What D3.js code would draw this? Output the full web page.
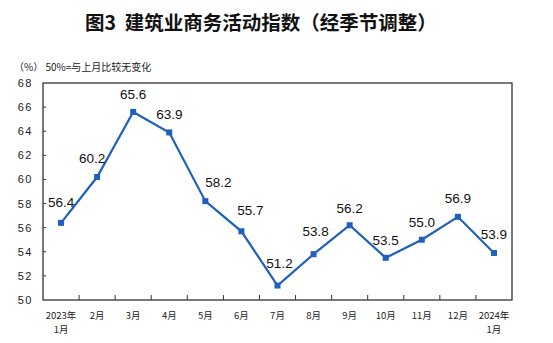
<!DOCTYPE html>
<html>
<head>
<meta charset="utf-8">
<script src="https://cdn.jsdelivr.net/npm/d3@7"></script>
<style>
  html, body { margin: 0; padding: 0; background: #fff; }
  svg { display: block; }
  text { font-family: "Liberation Sans", Arial, "Noto Sans CJK SC", sans-serif; white-space: pre; }
</style>
</head>
<body>
<svg id="chart" width="553" height="343"></svg>
<script>
// Months of the index, with two-line labels where the year changes
const months = ["2023年|1月", "2月", "3月", "4月", "5月", "6月", "7月", "8月", "9月", "10月", "11月", "12月", "2024年|1月"];
// Construction business activity index (seasonally adjusted), %
const values = [56.4, 60.2, 65.6, 63.9, 58.2, 55.7, 51.2, 53.8, 56.2, 53.5, 55.0, 56.9, 53.9];
const yTicks = [50, 52, 54, 56, 58, 60, 62, 64, 66, 68];
// Nudges of the value labels so they clear the line
const labelDx = [0, -5, 0, 0, 13, 9, 2, 2, 0, 0, 0, 0, 0];
const labelDy = [-16, -14, -13, -13, -14, -16, -18, -18, -12, -13, -13, -14, -14];

const svg = d3.select("#chart");
const plotLeft = 43, plotRight = 512, plotTop = 83, plotBottom = 300;
const blue = "#1f5fbd", axisColor = "#333";

const x = d3.scaleBand().domain(months).range([plotLeft, plotRight]).padding(0);
const y = d3.scaleLinear().domain([50, 68]).range([plotBottom, plotTop]);
const cx = d => x(d) + x.bandwidth() / 2;

// Title and unit note
svg.append("text")
  .attr("x", 85).attr("y", 30)
  .style("font-family", "'Noto Sans CJK SC', sans-serif")
  .style("font-size", "19.5px").style("font-weight", "bold").attr("fill", "#111")
  .text("图3  建筑业商务活动指数（经季节调整）");
svg.append("text")
  .attr("x", 14).attr("y", 71)
  .style("font-family", "'Noto Sans CJK SC', sans-serif")
  .style("font-size", "10px").attr("fill", "#222")
  .text("（%） 50%=与上月比较无变化");

// Plot frame
svg.append("rect")
  .attr("x", plotLeft).attr("y", plotTop)
  .attr("width", plotRight - plotLeft).attr("height", plotBottom - plotTop)
  .attr("fill", "none").attr("stroke", axisColor).attr("stroke-width", 1.3);

// Y axis: inward ticks, labels on the left
const yAxis = svg.append("g").attr("transform", `translate(${plotLeft},0)`)
  .call(d3.axisLeft(y).tickValues(yTicks).tickSize(0).tickPadding(10).tickFormat(d3.format("d")));
yAxis.select(".domain").remove();
yAxis.selectAll("text")
  .style("font-size", "11px").style("letter-spacing", "1.5px").attr("fill", "#222");
svg.append("g").selectAll("line").data(yTicks.slice(1, -1)).join("line")
  .attr("x1", plotLeft).attr("x2", plotLeft + 3)
  .attr("y1", d => y(d)).attr("y2", d => y(d))
  .attr("stroke", axisColor).attr("stroke-width", 1);

// X axis: ticks between months, pointing up into the plot
svg.append("g").selectAll("line").data(months.slice(1)).join("line")
  .attr("x1", d => x(d)).attr("x2", d => x(d))
  .attr("y1", plotBottom).attr("y2", plotBottom - 5)
  .attr("stroke", axisColor).attr("stroke-width", 1);
const xAxis = svg.append("g").attr("transform", `translate(0,${plotBottom})`)
  .call(d3.axisBottom(x).tickSize(0).tickFormat(""));
xAxis.select(".domain").remove();
xAxis.selectAll(".tick").each(function (d) {
  const t = d3.select(this).append("text")
    .attr("fill", "#222").attr("text-anchor", "middle")
    .style("font-family", "'Noto Sans CJK SC', sans-serif")
    .style("font-size", "9.5px");
  d.split("|").forEach((part, i) => {
    t.append("tspan").attr("x", 0).attr("y", 19 + i * 14).text(part);
  });
});

// Index line with square markers
const line = d3.line().x((d, i) => cx(months[i])).y(d => y(d));
svg.append("path").datum(values)
  .attr("d", line).attr("fill", "none")
  .attr("stroke", blue).attr("stroke-width", 2.2).attr("stroke-linejoin", "miter");
svg.append("g").selectAll("rect").data(values).join("rect")
  .attr("x", (d, i) => cx(months[i]) - 3).attr("y", d => y(d) - 3)
  .attr("width", 6).attr("height", 6).attr("fill", blue);

// Value labels
svg.append("g").selectAll("text").data(values).join("text")
  .attr("x", (d, i) => cx(months[i]) + labelDx[i])
  .attr("y", (d, i) => y(d) + labelDy[i])
  .attr("text-anchor", "middle")
  .style("font-size", "13.5px").attr("fill", "#111")
  .text(d => d.toFixed(1));
</script>
</body>
</html>
